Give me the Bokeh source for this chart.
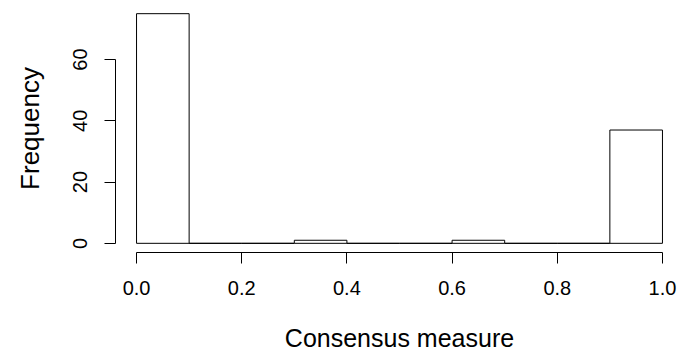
from bokeh.plotting import figure
from bokeh.models import Range1d, FixedTicker, PrintfTickFormatter, ColumnDataSource
from bokeh.embed import file_html
from bokeh.resources import INLINE

# Histogram of consensus measure: bin edges and counts
bin_left = [0.0, 0.1, 0.2, 0.3, 0.4, 0.5, 0.6, 0.7, 0.8, 0.9]
bin_right = [0.1, 0.2, 0.3, 0.4, 0.5, 0.6, 0.7, 0.8, 0.9, 1.0]
counts = [75, 0, 0, 1, 0, 0, 1, 0, 0, 37]

x_ticks = [0.0, 0.2, 0.4, 0.6, 0.8, 1.0]
y_ticks = [0, 20, 40, 60]

FONT = "Liberation Sans"

src = ColumnDataSource(dict(left=bin_left, right=bin_right,
                            top=counts, bottom=[0] * len(counts)))

p = figure(width=686, height=358, output_backend="svg", toolbar_location=None,
           x_range=Range1d(-0.04, 1.04), y_range=Range1d(-3, 78),
           min_border_left=115, min_border_right=3,
           min_border_top=4, min_border_bottom=106)
p.frame_width = 568
p.frame_height = 248

p.quad(left="left", right="right", top="top", bottom="bottom", source=src,
       fill_color="white", line_color="black", line_width=1)

p.grid.visible = False
p.outline_line_color = None
p.background_fill_color = "white"
p.border_fill_color = "white"

for ax in (p.xaxis[0], p.yaxis[0]):
    ax.axis_line_color = "black"
    ax.axis_line_width = 1
    ax.major_tick_line_color = "black"
    ax.major_tick_out = 11
    ax.major_tick_in = 0
    ax.minor_tick_line_color = None
    ax.major_label_text_font = FONT
    ax.major_label_text_font_size = "20px"
    ax.major_label_text_color = "black"
    ax.axis_label_text_font = FONT
    ax.axis_label_text_font_style = "normal"
    ax.axis_label_text_color = "black"

xa = p.xaxis[0]
xa.ticker = FixedTicker(ticks=x_ticks)
xa.bounds = (0, 1)
xa.formatter = PrintfTickFormatter(format="%.1f")
xa.major_label_standoff = 17
xa.axis_label = "Consensus measure"
xa.axis_label_text_font_size = "25px"
xa.axis_label_standoff = 26

ya = p.yaxis[0]
ya.ticker = FixedTicker(ticks=y_ticks)
ya.bounds = (0, 60)
ya.major_label_orientation = "vertical"
ya.major_label_standoff = 17
ya.axis_label = "Frequency"
ya.axis_label_text_font_size = "26px"
ya.axis_label_standoff = 26

open("out.html", "w").write(file_html(p, INLINE))
